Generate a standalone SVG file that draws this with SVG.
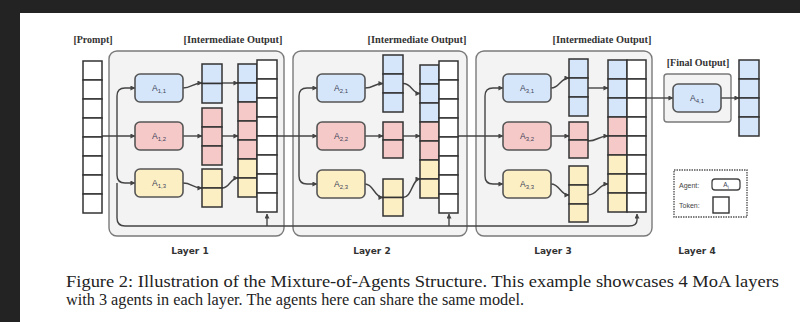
<svg xmlns="http://www.w3.org/2000/svg" width="800" height="322" viewBox="0 0 800 322">
<defs>
<style>
.bg{fill:#232323}
.paper{fill:#ffffff}
.layer{fill:#f3f3f3;stroke:#7a7a7a;stroke-width:1.4}
.cell{stroke:#333;stroke-width:1.5}
.w{fill:#ffffff}
.b{fill:#d6e6fa}
.p{fill:#f6c9c9}
.y{fill:#fdefc4}
.agent{stroke:#555;stroke-width:1.6}
.conn{fill:none;stroke:#444;stroke-width:1.4}
.lbl{font-family:"Liberation Serif",serif;font-size:10px;font-weight:bold;fill:#333}
.at{font-family:"Liberation Sans",sans-serif;font-size:8.5px;fill:#3a3f55;text-anchor:middle}
.sub{font-size:6px}
.lay{font-family:"DejaVu Sans",sans-serif;font-size:9px;font-weight:bold;fill:#333;text-anchor:middle}
.cap{font-family:"Liberation Serif",serif;font-size:17px;fill:#222}
.small{font-family:"Liberation Sans",sans-serif;font-size:7px;fill:#444}
</style>
<marker id="ah" viewBox="0 0 6 6" refX="5.5" refY="3" markerWidth="5" markerHeight="5" markerUnits="userSpaceOnUse" orient="auto">
<path d="M0,0 L6,3 L0,6 z" fill="#444"/>
</marker>
</defs>
<rect class="bg" x="0" y="0" width="800" height="322"/>
<rect class="paper" x="20" y="13" width="780" height="309"/>

<g id="labels">
<text class="lbl" x="93" y="43" text-anchor="middle">[Prompt]</text>
<text class="lbl" x="233" y="43" text-anchor="middle" textLength="99" lengthAdjust="spacingAndGlyphs">[Intermediate Output]</text>
<text class="lbl" x="417" y="43" text-anchor="middle" textLength="99" lengthAdjust="spacingAndGlyphs">[Intermediate Output]</text>
<text class="lbl" x="602" y="43" text-anchor="middle" textLength="99" lengthAdjust="spacingAndGlyphs">[Intermediate Output]</text>
<text class="lbl" x="698" y="66" text-anchor="middle">[Final Output]</text>
<text class="lay" x="190" y="254">Layer 1</text>
<text class="lay" x="372" y="254">Layer 2</text>
<text class="lay" x="553" y="254">Layer 3</text>
<text class="lay" x="697" y="254">Layer 4</text>
<text class="small" x="227" y="220" text-anchor="middle">concatenate</text>
</g>

<g id="layer1"><rect class="layer" x="109" y="51" width="175" height="185" rx="8"/></g>
<g id="layer2"><rect class="layer" x="293" y="51" width="174" height="185" rx="8"/></g>
<g id="layer3"><rect class="layer" x="476" y="51" width="176" height="185" rx="8"/></g>
<g id="layer4"><rect class="layer" x="664" y="74" width="67" height="48" rx="3"/></g>

<g id="connectors" class="conn">
<path d="M102,136 H135" marker-end="url(#ah)"/>
<path d="M117,136 V96 Q117,88 125,88 H135" marker-end="url(#ah)"/>
<path d="M117,136 V175 Q117,183 125,183 H135" marker-end="url(#ah)"/>
<path d="M117,183 V218 Q117,226 125,226 H629 Q637,226 637,220 V214" marker-end="url(#ah)"/>
<path d="M267,226 V214" marker-end="url(#ah)"/>
<path d="M449,226 V214" marker-end="url(#ah)"/>
<path d="M183,88 C192,88 192,83 202,83" marker-end="url(#ah)"/>
<path d="M222,83 H238" marker-end="url(#ah)"/>
<path d="M183,136 H202" marker-end="url(#ah)"/>
<path d="M222,136 H238" marker-end="url(#ah)"/>
<path d="M183,183 C192,183 192,188 202,188" marker-end="url(#ah)"/>
<path d="M222,188 C230,188 230,178 238,178" marker-end="url(#ah)"/>
<path d="M277,136 H317" marker-end="url(#ah)"/>
<path d="M299,136 V96 Q299,88 307,88 H317" marker-end="url(#ah)"/>
<path d="M299,136 V176 Q299,184 307,184 H317" marker-end="url(#ah)"/>
<path d="M365,88 C374,88 374,83.5 383,83.5" marker-end="url(#ah)"/>
<path d="M403,83.5 C412,83.5 412,93.5 420,93.5" marker-end="url(#ah)"/>
<path d="M365,136 H383" marker-end="url(#ah)"/>
<path d="M403,136 H420" marker-end="url(#ah)"/>
<path d="M365,184 C374,184 374,197.5 383,197.5" marker-end="url(#ah)"/>
<path d="M403,197.5 C412,197.5 412,179 420,179" marker-end="url(#ah)"/>
<path d="M458,136 H503" marker-end="url(#ah)"/>
<path d="M485,136 V96 Q485,88 493,88 H503" marker-end="url(#ah)"/>
<path d="M485,136 V176 Q485,184 493,184 H503" marker-end="url(#ah)"/>
<path d="M551,88 C560,88 560,78 569,78" marker-end="url(#ah)"/>
<path d="M588,88 H608" marker-end="url(#ah)"/>
<path d="M551,136 H569" marker-end="url(#ah)"/>
<path d="M588,141 C598,141 598,136 608,136" marker-end="url(#ah)"/>
<path d="M551,184 C560,184 560,195 569,195" marker-end="url(#ah)"/>
<path d="M588,195 C598,195 598,184 608,184" marker-end="url(#ah)"/>
<path d="M646,98 H673" marker-end="url(#ah)"/>
<path d="M721,98 H739" marker-end="url(#ah)"/>
</g>

<g id="prompt" class="cell w">
<rect x="83" y="61" width="19" height="19"/><rect x="83" y="80" width="19" height="19"/><rect x="83" y="99" width="19" height="19"/><rect x="83" y="118" width="19" height="19"/><rect x="83" y="137" width="19" height="19"/><rect x="83" y="156" width="19" height="19"/><rect x="83" y="175" width="19" height="19"/><rect x="83" y="194" width="19" height="19"/>
</g>

<g id="A11"><rect class="agent b" x="135" y="74" width="48" height="28" rx="5"/><text class="at" x="159" y="91">A<tspan class="sub" dy="2">1,1</tspan></text></g>
<g id="A12"><rect class="agent p" x="135" y="122" width="48" height="28" rx="5"/><text class="at" x="159" y="139">A<tspan class="sub" dy="2">1,2</tspan></text></g>
<g id="A13"><rect class="agent y" x="135" y="169" width="48" height="28" rx="5"/><text class="at" x="159" y="186">A<tspan class="sub" dy="2">1,3</tspan></text></g>

<g id="out11" class="cell b"><rect x="202" y="64" width="20" height="19.5"/><rect x="202" y="83.5" width="20" height="19.5"/></g>
<g id="out12" class="cell p"><rect x="202" y="108" width="20" height="19"/><rect x="202" y="127" width="20" height="19"/><rect x="202" y="146" width="20" height="19"/></g>
<g id="out13" class="cell y"><rect x="202" y="169" width="20" height="19"/><rect x="202" y="188" width="20" height="19"/></g>

<g id="concat1" class="cell">
<rect class="b" x="238" y="64" width="19" height="19"/><rect class="b" x="238" y="83" width="19" height="19"/>
<rect class="p" x="238" y="102" width="19" height="19"/><rect class="p" x="238" y="121" width="19" height="19"/><rect class="p" x="238" y="140" width="19" height="19"/>
<rect class="y" x="238" y="159" width="19" height="19"/><rect class="y" x="238" y="178" width="19" height="19"/>
</g>
<g id="prompt1" class="cell w">
<rect x="257" y="60" width="20" height="19"/><rect x="257" y="79" width="20" height="19"/><rect x="257" y="98" width="20" height="19"/><rect x="257" y="117" width="20" height="19"/><rect x="257" y="136" width="20" height="19"/><rect x="257" y="155" width="20" height="19"/><rect x="257" y="174" width="20" height="19"/><rect x="257" y="193" width="20" height="19"/>
</g>

<g id="A21"><rect class="agent b" x="317" y="74" width="48" height="28" rx="5"/><text class="at" x="341" y="91">A<tspan class="sub" dy="2">2,1</tspan></text></g>
<g id="A22"><rect class="agent p" x="317" y="122" width="48" height="28" rx="5"/><text class="at" x="341" y="139">A<tspan class="sub" dy="2">2,2</tspan></text></g>
<g id="A23"><rect class="agent y" x="317" y="170" width="48" height="28" rx="5"/><text class="at" x="341" y="187">A<tspan class="sub" dy="2">2,3</tspan></text></g>

<g id="out21" class="cell b"><rect x="383" y="55" width="20" height="19"/><rect x="383" y="74" width="20" height="19"/><rect x="383" y="93" width="20" height="19"/></g>
<g id="out22" class="cell p"><rect x="383" y="122" width="20" height="18"/><rect x="383" y="140" width="20" height="18"/></g>
<g id="out23" class="cell y"><rect x="383" y="179" width="20" height="18.5"/><rect x="383" y="197.5" width="20" height="18.5"/></g>

<g id="concat2" class="cell">
<rect class="b" x="420" y="65" width="19" height="19"/><rect class="b" x="420" y="84" width="19" height="19"/><rect class="b" x="420" y="103" width="19" height="19"/>
<rect class="p" x="420" y="122" width="19" height="19"/><rect class="p" x="420" y="141" width="19" height="19"/>
<rect class="y" x="420" y="160" width="19" height="19"/><rect class="y" x="420" y="179" width="19" height="19"/>
</g>
<g id="prompt2" class="cell w">
<rect x="439" y="61" width="19" height="19"/><rect x="439" y="80" width="19" height="19"/><rect x="439" y="99" width="19" height="19"/><rect x="439" y="118" width="19" height="19"/><rect x="439" y="137" width="19" height="19"/><rect x="439" y="156" width="19" height="19"/><rect x="439" y="175" width="19" height="19"/><rect x="439" y="194" width="19" height="19"/>
</g>

<g id="A31"><rect class="agent b" x="503" y="74" width="48" height="28" rx="5"/><text class="at" x="527" y="91">A<tspan class="sub" dy="2">3,1</tspan></text></g>
<g id="A32"><rect class="agent p" x="503" y="122" width="48" height="28" rx="5"/><text class="at" x="527" y="139">A<tspan class="sub" dy="2">3,2</tspan></text></g>
<g id="A33"><rect class="agent y" x="503" y="170" width="48" height="28" rx="5"/><text class="at" x="527" y="187">A<tspan class="sub" dy="2">3,3</tspan></text></g>

<g id="out31" class="cell b"><rect x="569" y="59" width="19" height="19"/><rect x="569" y="78" width="19" height="19"/><rect x="569" y="97" width="19" height="19"/></g>
<g id="out32" class="cell p"><rect x="569" y="122" width="19" height="18"/><rect x="569" y="140" width="19" height="18"/></g>
<g id="out33" class="cell y"><rect x="569" y="166" width="19" height="19"/><rect x="569" y="185" width="19" height="19"/><rect x="569" y="204" width="19" height="18"/></g>

<g id="concat3" class="cell">
<rect class="b" x="608" y="60" width="19" height="19"/><rect class="b" x="608" y="79" width="19" height="19"/><rect class="b" x="608" y="98" width="19" height="19"/>
<rect class="p" x="608" y="117" width="19" height="19"/><rect class="p" x="608" y="136" width="19" height="19"/>
<rect class="y" x="608" y="155" width="19" height="19"/><rect class="y" x="608" y="174" width="19" height="19"/><rect class="y" x="608" y="193" width="19" height="19"/>
</g>
<g id="prompt3" class="cell w">
<rect x="627" y="60" width="19" height="19"/><rect x="627" y="79" width="19" height="19"/><rect x="627" y="98" width="19" height="19"/><rect x="627" y="117" width="19" height="19"/><rect x="627" y="136" width="19" height="19"/><rect x="627" y="155" width="19" height="19"/><rect x="627" y="174" width="19" height="19"/><rect x="627" y="193" width="19" height="19"/>
</g>

<g id="A41"><rect class="agent b" x="673" y="84" width="48" height="28" rx="5"/><text class="at" x="697" y="101">A<tspan class="sub" dy="2">4,1</tspan></text></g>
<g id="final" class="cell b"><rect x="739" y="60" width="20" height="19"/><rect x="739" y="79" width="20" height="19"/><rect x="739" y="98" width="20" height="19"/><rect x="739" y="117" width="20" height="19"/></g>

<g id="legend">
<rect x="674" y="170" width="73" height="47" fill="#ffffff" stroke="#555" stroke-width="1.4" stroke-dasharray="1.5,1"/>
<text class="small" x="679" y="188">Agent:</text>
<rect x="712" y="179" width="28" height="11" rx="3" fill="#fff" stroke="#444" stroke-width="1.3"/>
<text class="at" x="726" y="187" style="font-size:6.5px">A<tspan class="sub" style="font-size:4.5px" dy="1.5">i</tspan></text>
<text class="small" x="679" y="208">Token:</text>
<rect x="713" y="197" width="16" height="16" fill="#fff" stroke="#333" stroke-width="1.4"/>
</g>

<g id="caption">
<text class="cap" x="66" y="287" textLength="713" lengthAdjust="spacingAndGlyphs">Figure 2: Illustration of the Mixture-of-Agents Structure. This example showcases 4 MoA layers</text>
<text class="cap" x="66" y="305" textLength="458" lengthAdjust="spacingAndGlyphs">with 3 agents in each layer. The agents here can share the same model.</text>
</g>
</svg>
